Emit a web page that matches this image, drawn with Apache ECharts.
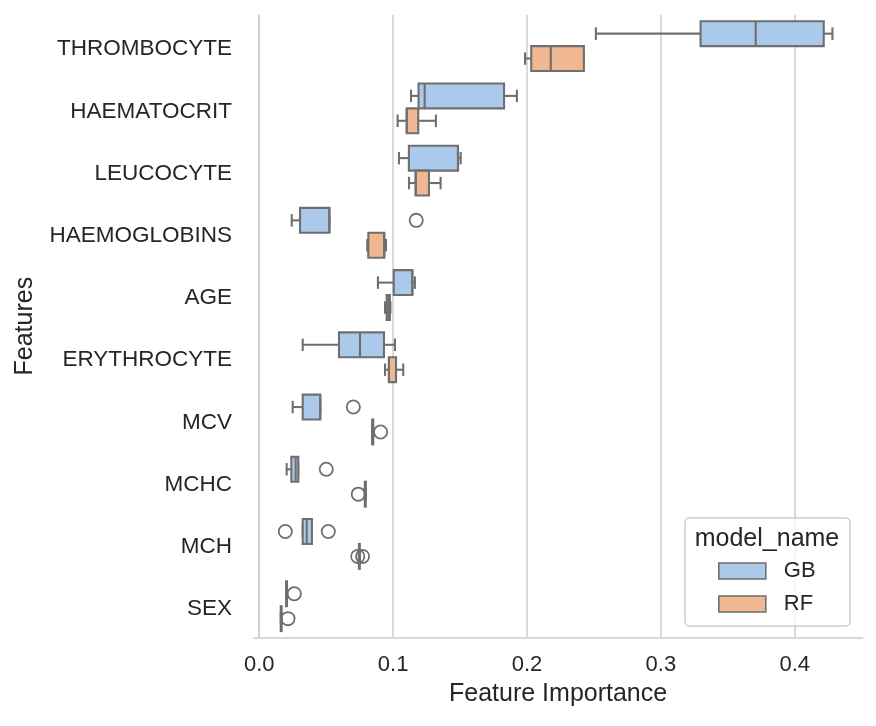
<!DOCTYPE html>
<html><head><meta charset="utf-8">
<script src="https://cdn.jsdelivr.net/npm/echarts@6/dist/echarts.min.js"></script>
<style>html,body{margin:0;padding:0;background:#fff}#c{width:876px;height:726px}</style>
</head><body><div id="c"></div>
<script>
// Feature categories (top to bottom)
const categories = ['THROMBOCYTE','HAEMATOCRIT','LEUCOCYTE','HAEMOGLOBINS','AGE','ERYTHROCYTE','MCV','MCHC','MCH','SEX'];
const hueNames = ['GB','RF'];
// [whiskerLow, Q1, median, Q3, whiskerHigh]
const gbStats = [
  [0.2515, 0.3297, 0.3709, 0.4217, 0.4282],
  [0.1134, 0.1190, 0.1236, 0.1829, 0.1925],
  [0.1044, 0.1118, 0.1485, 0.1485, 0.1505],
  [0.0243, 0.0305, 0.0524, 0.0524, 0.0524],
  [0.0887, 0.1005, 0.1144, 0.1144, 0.1163],
  [0.0325, 0.0596, 0.0753, 0.0932, 0.1014],
  [0.0250, 0.0325, 0.0456, 0.0456, 0.0456],
  [0.0205, 0.0240, 0.0272, 0.0292, 0.0292],
  [0.0325, 0.0325, 0.0355, 0.0394, 0.0394],
  [0.0201, 0.0201, 0.0204, 0.0207, 0.0207]
];
const rfStats = [
  [0.1986, 0.2032, 0.2178, 0.2425, 0.2425],
  [0.1034, 0.1102, 0.1102, 0.1188, 0.1320],
  [0.1119, 0.1169, 0.1169, 0.1268, 0.1355],
  [0.0807, 0.0815, 0.0934, 0.0934, 0.0947],
  [0.0940, 0.0952, 0.0964, 0.0976, 0.0980],
  [0.0940, 0.0969, 0.0969, 0.1022, 0.1076],
  [0.0843, 0.0844, 0.0847, 0.0852, 0.0852],
  [0.0788, 0.0789, 0.0792, 0.0796, 0.0796],
  [0.0744, 0.0745, 0.0748, 0.0751, 0.0751],
  [0.0161, 0.0161, 0.0164, 0.0167, 0.0167]
];
// [categoryIndex, value]
const gbOutliers = [[3,0.1173],[6,0.0703],[7,0.0501],[8,0.0195],[8,0.0516],[9,0.0262]];
const rfOutliers = [[6,0.0907],[7,0.0740],[8,0.0736],[8,0.0772],[9,0.0215]];
const xTickValues = [0.0, 0.1, 0.2, 0.3, 0.4];

const EDGE = '#6f6f6f';
const colors = {GB: '#abc9ea', RF: '#efb792'};
const LW = 2.1;

function boxRender(offsetFrac, fill) {
  return function (params, api) {
    const cat = api.value(0);
    const band = api.size([0, 1])[1];
    const cy = api.coord([0, cat])[1] + offsetFrac * band;
    const h = band * 0.4;
    const px = v => api.coord([v, cat])[0];
    const lo = px(api.value(1)), q1 = px(api.value(2)), md = px(api.value(3)), q3 = px(api.value(4)), hi = px(api.value(5));
    const ls = {stroke: EDGE, lineWidth: LW};
    return {type: 'group', children: [
      {type: 'line', shape: {x1: lo, y1: cy, x2: q1, y2: cy}, style: ls},
      {type: 'line', shape: {x1: q3, y1: cy, x2: hi, y2: cy}, style: ls},
      {type: 'line', shape: {x1: lo, y1: cy - h / 4, x2: lo, y2: cy + h / 4}, style: ls},
      {type: 'line', shape: {x1: hi, y1: cy - h / 4, x2: hi, y2: cy + h / 4}, style: ls},
      {type: 'rect', shape: {x: q1, y: cy - h / 2, width: Math.max(q3 - q1, 0), height: h}, style: {fill: fill, stroke: EDGE, lineWidth: LW}},
      {type: 'line', shape: {x1: md, y1: cy - h / 2, x2: md, y2: cy + h / 2}, style: ls}
    ]};
  };
}
function outlierRender(offsetFrac) {
  return function (params, api) {
    const cat = api.value(0);
    const band = api.size([0, 1])[1];
    const p = api.coord([api.value(1), cat]);
    return {type: 'circle', shape: {cx: p[0], cy: p[1] + offsetFrac * band, r: 6.6}, style: {fill: 'none', stroke: EDGE, lineWidth: 1.8}};
  };
}

const chart = echarts.init(document.getElementById('c'), null, {renderer: 'canvas'});
const FONT = 'Liberation Sans, Arial, sans-serif';
chart.setOption({
  animation: false,
  backgroundColor: '#fff',
  textStyle: {fontFamily: FONT, color: '#262626'},
  grid: {left: 253.5, right: 13.3, top: 15, bottom: 88.7, containLabel: false},
  xAxis: {
    type: 'value', min: -0.00426, max: 0.4508, splitNumber: 5,
    name: 'Feature Importance', nameLocation: 'middle', nameGap: 44,
    nameTextStyle: {fontSize: 25, color: '#262626', fontFamily: FONT},
    axisLine: {show: true, lineStyle: {color: '#cccccc', width: 1.5}},
    axisTick: {show: false},
    axisLabel: {fontSize: 22, color: '#262626', margin: 17, fontFamily: FONT, showMinLabel: false, showMaxLabel: false,
      formatter: v => (xTickValues.some(t => Math.abs(t - v) < 1e-9) ? v.toFixed(1) : '')},
    splitLine: {show: true, showMinLine: false, showMaxLine: false, lineStyle: {color: '#cccccc', width: 1.5}}
  },
  yAxis: {
    type: 'category', data: categories, inverse: true,
    name: 'Features', nameLocation: 'middle', nameGap: 216, nameRotate: 90,
    nameTextStyle: {fontSize: 25, color: '#262626', fontFamily: FONT},
    axisLine: {show: true, lineStyle: {color: '#cccccc', width: 1.5}},
    axisTick: {show: false},
    axisLabel: {fontSize: 22.5, color: '#262626', margin: 21.5, fontFamily: FONT,
      formatter: v => '{a|' + v + '}',
      rich: {a: {fontSize: 22.5, color: '#262626', fontFamily: FONT, padding: [6, 0, 0, 0]}}},
    splitLine: {show: false}
  },
  legend: {
    orient: 'vertical', left: 718, top: 560, padding: 0,
    itemWidth: 47, itemHeight: 16, itemGap: 11, z: 10,
    textStyle: {fontSize: 22, lineHeight: 22, color: '#262626', fontFamily: FONT, padding: [0, 0, 0, 13]},
    data: hueNames.map(n => ({name: n, icon: 'rect', itemStyle: {color: colors[n], borderColor: EDGE, borderWidth: 1.6}}))
  },
  graphic: [
    {type: 'rect', z: 5, shape: {x: 685, y: 518, width: 165, height: 108, r: 4},
      style: {fill: 'rgba(255,255,255,0.8)', stroke: '#cccccc', lineWidth: 1.5}},
    {type: 'text', z: 6, style: {x: 767, y: 539, text: 'model_name', fontSize: 25, fontFamily: FONT, fill: '#262626', textAlign: 'center', textVerticalAlign: 'middle'}}
  ],
  series: [
    {name: 'GB', type: 'custom', renderItem: boxRender(-0.2, colors.GB), itemStyle: {color: colors.GB},
      encode: {y: 0, x: [1, 2, 3, 4, 5]}, data: gbStats.map((s, i) => [i].concat(s)), z: 2},
    {name: 'RF', type: 'custom', renderItem: boxRender(0.2, colors.RF), itemStyle: {color: colors.RF},
      encode: {y: 0, x: [1, 2, 3, 4, 5]}, data: rfStats.map((s, i) => [i].concat(s)), z: 2},
    {name: 'GB outliers', type: 'custom', renderItem: outlierRender(-0.2), encode: {y: 0, x: 1}, data: gbOutliers, z: 3},
    {name: 'RF outliers', type: 'custom', renderItem: outlierRender(0.2), encode: {y: 0, x: 1}, data: rfOutliers, z: 3}
  ]
});
</script></body></html>
